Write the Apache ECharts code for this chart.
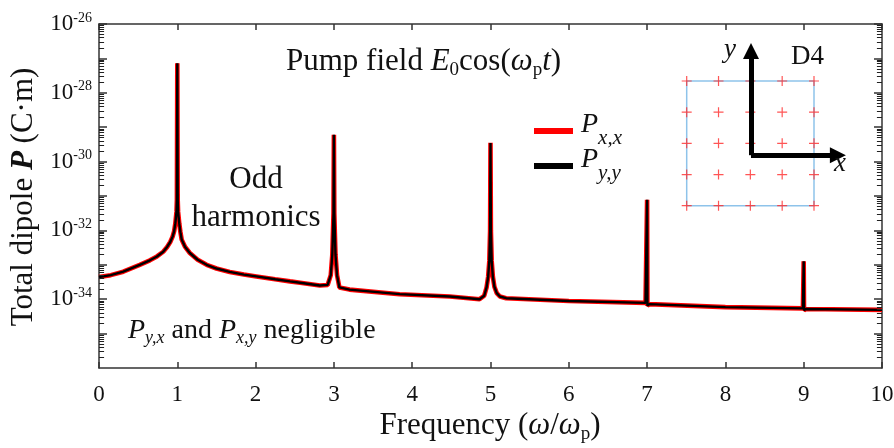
<!DOCTYPE html>
<html>
<head>
<meta charset="utf-8">
<script src="https://cdn.jsdelivr.net/npm/echarts@6/dist/echarts.min.js"></script>
<style>
  html, body { margin: 0; padding: 0; background: #fff; }
  #chart { width: 894px; height: 448px; }
</style>
</head>
<body>
<div id="chart"></div>
<script>
const FONT = '"Liberation Serif", "Times New Roman", serif';
const INK = '#111';

// frequency, omega / omega_p
const freq = [0, 0.15, 0.31, 0.52, 0.65, 0.74, 0.82, 0.87, 0.91, 0.94,
  0.96, 0.975, 0.99, 0.995, 1.0, 1.005, 1.01, 1.025, 1.04, 1.056,
  1.1, 1.16, 1.26, 1.375, 1.5, 1.67, 1.85, 2.01, 2.25, 2.44,
  2.57, 2.82, 2.92, 2.96, 2.98, 2.995, 3.0, 3.005, 3.02, 3.04,
  3.07, 3.2, 3.84, 4.48, 4.86, 4.92, 4.95, 4.97, 4.985, 4.995,
  5.0, 5.005, 5.015, 5.03, 5.05, 5.08, 5.12, 5.2, 6.0, 6.98,
  7.0, 7.004, 7.03, 8.0, 8.99, 9.0, 9.004, 9.03, 10];

// total dipole P_x,x (C·m)
const pxx = [4.4e-34, 5.0e-34, 6.3e-34, 1.0e-33, 1.35e-33, 1.75e-33, 2.4e-33, 3.3e-33, 4.6e-33, 6.6e-33,
  9.5e-33, 1.6e-32, 3.5e-32, 8.0e-32, 7.2e-28, 8.0e-32, 3.5e-32, 1.6e-32, 8.9e-33, 5.4e-33,
  3.3e-33, 2.2e-33, 1.4e-33, 1.0e-33, 7.8e-34, 6.2e-34, 5.2e-34, 4.6e-34, 3.8e-34, 3.3e-34,
  3.0e-34, 2.5e-34, 2.6e-34, 5.0e-34, 2.0e-33, 3.2e-32, 6.0e-30, 3.2e-32, 2.0e-33, 5.0e-34,
  2.2e-34, 1.9e-34, 1.4e-34, 1.2e-34, 1.0e-34, 1.26e-34, 2.2e-34, 4.5e-34, 1.3e-33, 1.0e-32,
  3.5e-30, 1.0e-32, 1.3e-33, 4.5e-34, 2.3e-34, 1.5e-34, 1.2e-34, 1.07e-34, 8.9e-35, 7.8e-35,
  7.8e-32, 6.5e-35, 7.2e-35, 5.9e-35, 5.4e-35, 1.26e-33, 4.8e-35, 5.2e-35, 4.9e-35];

// P_y,y lies exactly on top of P_x,x (D4 symmetry)
const pyy = pxx;

// y tick labels (exponents of 10) and decades
const yLabelExps = [-36, -34, -32, -30, -28, -26];
const decades = [-36, -35, -34, -33, -32, -31, -30, -29, -28, -27];

// inset: D4 lattice sites and the x / y arrows (inset units)
const latticeX = [0, 1, 2, 3, 4];
const latticeY = [0, 1, 2, 3, 4];
const arrowOrigin = [2.02, 1.62];
const arrowYEnd = [2.02, 4.96];
const arrowXEnd = [4.75, 1.62];

const latticePts = [];
latticeX.forEach(x => latticeY.forEach(y => latticePts.push([x, y])));

// minor log ticks 2..9 x 10^n, as exponents; drawn as short segments
// on a hidden exponent axis that spans the same range as the log axis
const minorLen = 0.065; // in frequency units, about 5 px
const minorSegs = [];
decades.forEach(d => {
  for (let k = 2; k <= 9; k++) {
    const e = d + Math.log10(k);
    minorSegs.push({ coords: [[0, e], [minorLen, e]] });
    minorSegs.push({ coords: [[10, e], [10 - minorLen, e]] });
  }
});

function richSet(size, subSize) {
  const L = size + 4;
  const subLH = 4 - 0.08 * size + 0.68 * subSize;
  return {
    n: { fontFamily: FONT, fontSize: size, lineHeight: L, color: INK },
    i: { fontFamily: FONT, fontSize: size, lineHeight: L, color: INK, fontStyle: 'italic' },
    b: { fontFamily: FONT, fontSize: size, lineHeight: L, color: INK, fontStyle: 'italic', fontWeight: 'bold' },
    s: { fontFamily: FONT, fontSize: subSize, lineHeight: subLH, color: INK, verticalAlign: 'bottom' },
    si: { fontFamily: FONT, fontSize: subSize, lineHeight: subLH, color: INK, verticalAlign: 'bottom', fontStyle: 'italic' }
  };
}

function label(text, x, y, size, subSize, align, rotation) {
  return {
    type: 'text', x: x, y: y, rotation: rotation || 0, z: 10,
    style: {
      text: text, align: align || 'center', verticalAlign: 'middle',
      fontFamily: FONT, fontSize: size, fill: INK,
      rich: richSet(size, subSize)
    }
  };
}

const axisLine = { show: true, onZero: false, lineStyle: { color: '#333', width: 1.5 } };
const plain = { show: false };
const majorTick = { show: true, inside: true, length: 8, lineStyle: { color: '#333', width: 1.5 } };

const chart = echarts.init(document.getElementById('chart'));

chart.setOption({
  animation: false,
  backgroundColor: '#fff',
  grid: [
    { left: 99, top: 24, width: 783, height: 344, outerBoundsMode: 'none' },
    { left: 686.7, top: 81, width: 127.3, height: 124.7, show: true,
      borderColor: '#8ec3ea', borderWidth: 1.5, backgroundColor: 'transparent', outerBoundsMode: 'none' }
  ],
  legend: {
    data: ['Px,x', 'Py,y'],
    orient: 'vertical',
    left: 529, top: 106,
    icon: 'rect', itemWidth: 39, itemHeight: 6, itemGap: -5,
    selectedMode: false,
    formatter: name => name === 'Px,x' ? '{p|P}{s|x,x}' : '{p|P}{s|y,y}',
    textStyle: {
      rich: {
        p: { fontFamily: FONT, fontSize: 28, lineHeight: 30, fontStyle: 'italic', color: INK, padding: [0, 0, 12, 3] },
        s: { fontFamily: FONT, fontSize: 21, lineHeight: 36, fontStyle: 'italic', color: INK, verticalAlign: 'bottom' }
      }
    }
  },
  xAxis: [
    {
      type: 'value', gridIndex: 0, position: 'bottom', min: 0, max: 10, interval: 1,
      axisLine: axisLine,
      axisTick: { show: true, inside: true, length: 6, lineStyle: { color: '#333', width: 1.5 } },
      axisLabel: { show: true, margin: 15, fontFamily: FONT, fontSize: 23, color: INK, showMinLabel: true, showMaxLabel: true },
      splitLine: plain
    },
    {
      type: 'value', gridIndex: 0, position: 'top', min: 0, max: 10, interval: 1,
      axisLine: axisLine,
      axisTick: { show: true, inside: true, length: 6, lineStyle: { color: '#333', width: 1.5 } },
      axisLabel: plain, splitLine: plain
    },
    { type: 'value', gridIndex: 1, min: 0, max: 4, show: false }
  ],
  yAxis: [
    {
      type: 'log', logBase: 10, gridIndex: 0, position: 'left',
      min: 1e-36, max: 1e-26, interval: 1,
      axisLine: axisLine,
      axisTick: majorTick,
      axisLabel: {
        show: true, margin: 7, fontFamily: FONT, fontSize: 23, lineHeight: 26, color: INK,
        showMinLabel: true, showMaxLabel: true,
        formatter: v => {
          const e = Math.round(Math.log10(v));
          return yLabelExps.includes(e) ? '10{sup|' + e + '}' : '';
        },
        rich: { sup: { fontFamily: FONT, fontSize: 14, lineHeight: 16.4, verticalAlign: 'top', color: INK } }
      },
      splitLine: plain
    },
    {
      type: 'log', logBase: 10, gridIndex: 0, position: 'right',
      min: 1e-36, max: 1e-26, interval: 1,
      axisLine: axisLine,
      axisTick: majorTick,
      axisLabel: plain, splitLine: plain
    },
    { type: 'value', gridIndex: 1, min: 0, max: 4, show: false },
    { type: 'value', gridIndex: 0, min: -36, max: -26, show: false }
  ],
  series: [
    {
      name: 'minor ticks', type: 'lines', coordinateSystem: 'cartesian2d', xAxisIndex: 0, yAxisIndex: 3,
      clip: false, silent: true,
      symbol: 'none',
      lineStyle: { color: '#222', width: 1, opacity: 1 },
      data: minorSegs,
      z: 4
    },
    {
      name: 'Px,x', type: 'line', xAxisIndex: 0, yAxisIndex: 0,
      data: freq.map((f, i) => [f, pxx[i]]),
      showSymbol: false, symbol: 'none', smooth: false,
      color: '#ff0000',
      lineStyle: { color: '#ff0000', width: 4.6 }
    },
    {
      name: 'Py,y', type: 'line', xAxisIndex: 0, yAxisIndex: 0,
      data: freq.map((f, i) => [f, pyy[i]]),
      showSymbol: false, symbol: 'none', smooth: false,
      color: '#000',
      lineStyle: { color: '#000', width: 2.4 }
    },
    {
      name: 'lattice', type: 'scatter', xAxisIndex: 2, yAxisIndex: 2,
      data: latticePts,
      symbol: 'path://M0,5H10M5,0V10', symbolSize: 10,
      itemStyle: { color: 'transparent', borderColor: '#ff2a2a', borderWidth: 1.2 },
      z: 5
    },
    {
      name: 'axes', type: 'lines', coordinateSystem: 'cartesian2d', xAxisIndex: 2, yAxisIndex: 2,
      clip: false,
      symbol: ['none', 'triangle'], symbolSize: 16,
      lineStyle: { color: '#000', width: 5, opacity: 1 },
      data: [
        { coords: [arrowOrigin, arrowYEnd] },
        { coords: [arrowOrigin, arrowXEnd] }
      ],
      z: 6
    }
  ],
  graphic: [
    label('{n|Frequency (}{i|ω}{n|/}{i|ω}{s|p}{n|)}', 490, 426, 31, 19),
    label('{n|Total dipole }{b|P}{n| (C·m)}', 24, 197, 31, 19, 'center', Math.PI / 2),
    label('{n|Pump field }{i|E}{s|0}{n|cos(}{i|ω}{s|p}{i|t}{n|)}', 286, 62, 31, 19, 'left'),
    label('{n|Odd}', 256, 180, 31, 19),
    label('{n|harmonics}', 256, 218, 31, 19),
    label('{i|P}{si|y,x}{n| and }{i|P}{si|x,y}{n| negligible}', 128, 331, 28, 18, 'left'),
    label('{i|y}', 730, 50, 27, 17),
    label('{i|x}', 840, 164, 27, 17),
    label('{n|D4}', 807.5, 57, 27, 17)
  ]
});
</script>
</body>
</html>
